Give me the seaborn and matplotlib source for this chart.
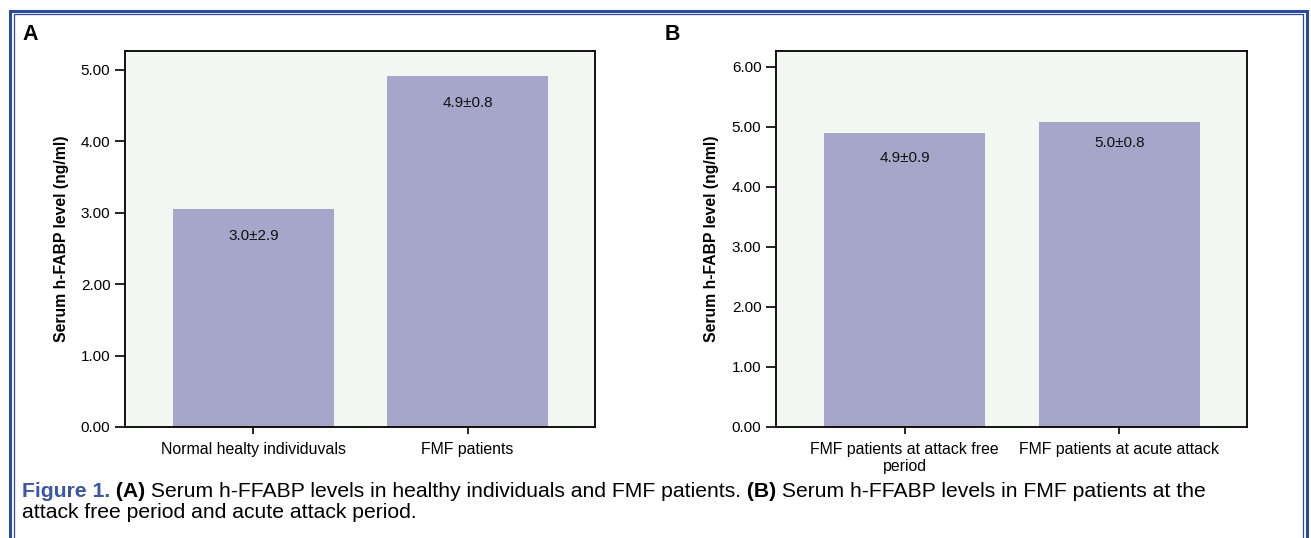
import matplotlib
matplotlib.use("Agg")
import matplotlib.pyplot as plt
import seaborn as sns
import pandas as pd
from matplotlib.patches import Rectangle

# ---- data ----
a_categories = ["Normal healty individuvals", "FMF patients"]
a_values = [3.06, 4.91]
a_labels = ["3.0±2.9", "4.9±0.8"]
a_yticks = [0, 1, 2, 3, 4, 5]

b_categories = ["FMF patients at attack free\nperiod", "FMF patients at acute attack"]
b_values = [4.90, 5.08]
b_labels = ["4.9±0.9", "5.0±0.8"]
b_yticks = [0, 1, 2, 3, 4, 5, 6]

ylabel = "Serum h-FABP level (ng/ml)"

BAR = "#a6a6ca"
BG = "#f2f7f2"
BLUE = "#2c4a9c"
CAP_BLUE = "#3a56a5"

plt.rcParams['font.family'] = ['Liberation Sans', 'DejaVu Sans']

W, H = 1311, 538
fig = plt.figure(figsize=(W / 100, H / 100), dpi=100)

def px_axes(l, r, t, b):
    return fig.add_axes([l / W, 1 - b / H, (r - l) / W, (b - t) / H])

axA = px_axes(125, 595, 51, 427)
axB = px_axes(776, 1247, 51, 427)

def panel(ax, cats, vals, labels, yticks, ytop, offsets):
    df = pd.DataFrame({"cat": cats, "val": vals})
    sns.barplot(data=df, x="cat", y="val", ax=ax, color=BAR, saturation=1,
                width=0.75, linewidth=0, errorbar=None)
    ax.set_facecolor(BG)
    ax.set_xlim(-0.6, 1.595)
    ax.set_ylim(0, ytop)
    ax.set_yticks(yticks)
    ax.set_yticklabels([f"{v:.2f}" for v in yticks])
    ax.set_xlabel("")
    ax.set_ylabel(ylabel, fontsize=11.3, fontweight="bold")
    ax.yaxis.set_label_coords(-0.12, 0.5)
    for s in ax.spines.values():
        s.set_color("black")
        s.set_linewidth(1.3)
        s.set_visible(True)
    ax.tick_params(axis="both", direction="out", width=1.2, colors="black")
    ax.tick_params(axis="y", labelsize=11, length=7, pad=3.5)
    ax.tick_params(axis="x", labelsize=11.4, length=5, pad=6)
    for t in ax.get_xticklabels():
        t.set_linespacing(1.15)
    for i, (v, lab) in enumerate(zip(vals, labels)):
        ax.annotate(lab, xy=(i, v), xytext=(0, offsets[i]), textcoords="offset points",
                    ha="center", va="center", fontsize=11, color="#111111")
    ax.grid(False)

panel(axA, a_categories, a_values, a_labels, a_yticks, 5.266, [-20, -19])
panel(axB, b_categories, b_values, b_labels, b_yticks, 6.26, [-18, -15])

fig.text(22 / W, 1 - 34 / H, "A", fontsize=15.5, fontweight="bold", va="center", ha="left")
fig.text(665 / W, 1 - 34 / H, "B", fontsize=15.5, fontweight="bold", va="center", ha="left")

# borders (double line)
fig.add_artist(Rectangle((9.5 / W, -0.1), (1306.5 - 9.5) / W, 1 - 11 / H + 0.1,
                         transform=fig.transFigure, fill=False, edgecolor=BLUE, linewidth=2.2))
fig.add_artist(Rectangle((13.8 / W, -0.1), (1302.5 - 13.8) / W, 1 - 14.5 / H + 0.1,
                         transform=fig.transFigure, fill=False, edgecolor=BLUE, linewidth=0.9))

# caption with mixed styles
pieces1 = [("Figure 1.", CAP_BLUE, "bold"), (" (A)", "black", "bold"),
           (" Serum h-FFABP levels in healthy individuals and FMF patients.", "black", "normal"),
           (" (B)", "black", "bold"),
           (" Serum h-FFABP levels in FMF patients at the", "black", "normal")]
fig.canvas.draw()
renderer = fig.canvas.get_renderer()

CAP_FS = 15.2
x = 22.0
y1 = 1 - 497 / H
for txt, col, wt in pieces1:
    t = fig.text(x / W, y1, txt, fontsize=CAP_FS, color=col, fontweight=wt,
                 ha="left", va="baseline")
    bb = t.get_window_extent(renderer=renderer)
    x = bb.x1
fig.text(22 / W, 1 - 518.5 / H, "attack free period and acute attack period.", fontsize=CAP_FS,
         color="black", ha="left", va="baseline")

fig.savefig("out.png", dpi=100)
